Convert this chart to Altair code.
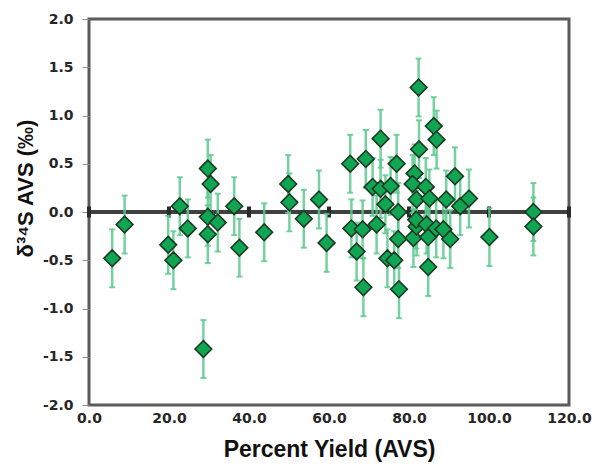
import altair as alt
import pandas as pd

# Percent yield of AVS and the matching delta-34S value (per mil)
yield_pct = [
    5.8, 8.9, 19.8, 21.1, 22.7, 24.7, 28.6, 29.7, 30.4, 29.7,
    29.7, 32.2, 36.3, 37.6, 43.8, 49.8, 50.1, 53.7, 57.5, 59.4,
    65.3, 69.2, 72.9, 76.9, 82.4, 82.5, 86.2, 86.9, 70.9, 72.9,
    75.4, 74.1, 77.3, 81.4, 80.9, 81.9, 84.2, 85.1, 89.3, 91.5,
    92.8, 95.0, 111.1, 65.6, 68.4, 71.9, 66.9, 68.6, 77.3, 74.6,
    76.3, 77.5, 81.1, 81.9, 81.8, 84.4, 84.8, 84.8, 86.8, 88.6,
    90.3, 100.1, 111.1,
]
d34s = [
    -0.48, -0.13, -0.34, -0.50, 0.06, -0.17, -1.42, 0.45, 0.29, -0.05,
    -0.23, -0.11, 0.06, -0.37, -0.21, 0.29, 0.10, -0.07, 0.13, -0.32,
    0.50, 0.55, 0.76, 0.50, 1.29, 0.65, 0.89, 0.75, 0.26, 0.24,
    0.27, 0.08, 0.00, 0.40, 0.29, 0.13, 0.26, 0.14, 0.13, 0.37,
    0.06, 0.14, 0.00, -0.17, -0.18, -0.13, -0.41, -0.78, -0.28, -0.48,
    -0.50, -0.80, -0.27, -0.15, -0.08, -0.13, -0.26, -0.57, -0.17, -0.18,
    -0.28, -0.26, -0.15,
]
# analytical uncertainty (per mil), same for every measurement
uncertainty = 0.3

x_ticks = [0, 20, 40, 60, 80, 100, 120]
y_ticks = [-2.0, -1.5, -1.0, -0.5, 0.0, 0.5, 1.0, 1.5, 2.0]

df = pd.DataFrame({"x": yield_pct, "y": d34s})
df["lo"] = df["y"] - uncertainty
df["hi"] = df["y"] + uncertainty
caps = pd.concat([
    pd.DataFrame({"x": df["x"], "y": df["lo"]}),
    pd.DataFrame({"x": df["x"], "y": df["hi"]}),
])

xscale = alt.Scale(domain=[0, 120], nice=False, zero=False)
yscale = alt.Scale(domain=[-2, 2], nice=False)

# plain hyphen for negative labels
hyphen_labels = "replace(format(datum.value, '.1f'), '\u2212', '-')"

x_axis = alt.Axis(
    values=x_ticks, grid=False, domain=False, ticks=False,
    labelExpr=hyphen_labels, labelFlush=False, labelOverlap=False,
    labelFont="DejaVu Sans", labelFontWeight="bold", labelFontSize=14,
    labelColor="#262626", labelPadding=6,
    title="Percent Yield (AVS)", titleFont="Liberation Sans",
    titleFontSize=23, titleFontWeight="bold", titleColor="#111111",
    titlePadding=13,
)
y_axis = alt.Axis(
    values=y_ticks, grid=False, domain=False,
    labelExpr=hyphen_labels, labelFlush=False, labelOverlap=False,
    tickSize=7, tickColor="#8c8c8c", tickWidth=1,
    labelFont="DejaVu Sans", labelFontWeight="bold", labelFontSize=14,
    labelColor="#262626", labelPadding=9,
    title="δ³⁴S AVS (‰)", titleFont="Liberation Sans",
    titleFontSize=22, titleFontWeight="bold", titleColor="#111111",
    titleX=-64, titleY=169, titleBaseline="middle",
)

base = alt.Chart(df)

zero_line = alt.Chart(pd.DataFrame({"x": [0], "x2": [120], "y": [0]})).mark_rule(
    color="#404040", strokeWidth=4
).encode(
    x=alt.X("x:Q", scale=xscale, axis=x_axis),
    x2="x2:Q",
    y=alt.Y("y:Q", scale=yscale, axis=y_axis),
)

zero_ticks = alt.Chart(pd.DataFrame({"x": x_ticks, "y": [0] * len(x_ticks)})).mark_tick(
    orient="vertical", size=11, thickness=4, color="#2a2a2a", opacity=1
).encode(x=alt.X("x:Q", scale=xscale), y=alt.Y("y:Q", scale=yscale))

bars = base.mark_rule(color="#5ec98f", strokeWidth=2.5, opacity=0.85).encode(
    x=alt.X("x:Q", scale=xscale),
    y=alt.Y("lo:Q", scale=yscale),
    y2="hi:Q",
)

bar_caps = alt.Chart(caps).mark_tick(
    orient="horizontal", size=6, thickness=2, color="#5ec98f", opacity=0.85
).encode(x=alt.X("x:Q", scale=xscale), y=alt.Y("y:Q", scale=yscale))

points = base.mark_point(
    shape="diamond", filled=True, size=280, fill="#0fa552",
    stroke="#1c3a22", strokeWidth=1.6, opacity=1,
).encode(x=alt.X("x:Q", scale=xscale), y=alt.Y("y:Q", scale=yscale))

chart = alt.layer(zero_line, zero_ticks, bars, bar_caps, points).properties(
    width=480,
    height=386,
    autosize=alt.AutoSizeParams(type="none"),
    padding={"left": 89, "top": 19, "right": 27, "bottom": 69},
).configure_view(stroke="#5a5a5a", strokeWidth=3)

chart.save("out.html", embed_options={"renderer": "svg", "actions": False})
